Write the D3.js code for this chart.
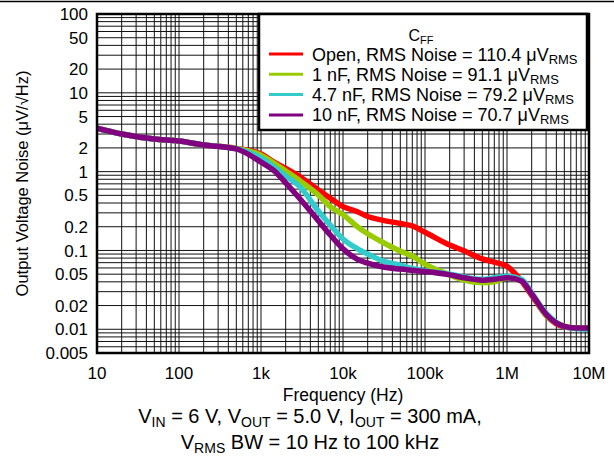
<!DOCTYPE html>
<html>
<head>
<meta charset="utf-8">
<script src="https://cdn.jsdelivr.net/npm/d3@7"></script>
<style>
  body { margin: 0; background: #fff; }
  text { font-family: "Liberation Sans", Arial, Helvetica, sans-serif; fill: #000; }
</style>
</head>
<body>
<div id="chart"></div>
<script>
// values (Hz, uV/rtHz)
var freqs = [10, 20, 50, 100, 200, 500, 1e3, 1.5e3, 2e3, 3e3, 5e3, 7e3, 1e4, 1.5e4, 2e4, 3e4, 5e4, 7e4,
             1e5, 2e5, 3e5, 5e5, 7e5, 1e6, 1.5e6, 2e6, 3e6, 5e6, 7e6, 1e7];
var noiseOpen = [3.57, 3.0, 2.59, 2.44, 2.18, 1.97, 1.67, 1.29, 1.10, 0.86, 0.585, 0.46, 0.36, 0.31, 0.27, 0.243, 0.22, 0.205,
                 0.17, 0.117, 0.099, 0.078, 0.071, 0.063, 0.041, 0.027, 0.015, 0.0107, 0.0104, 0.0102];
var noise1n = [3.57, 3.0, 2.59, 2.44, 2.18, 1.97, 1.62, 1.25, 1.02, 0.76, 0.505, 0.36, 0.285, 0.2, 0.163, 0.128, 0.098, 0.085,
               0.067, 0.049, 0.042, 0.039, 0.040, 0.045, 0.041, 0.028, 0.015, 0.011, 0.0104, 0.0104];
var noise4n7 = [3.57, 3.0, 2.59, 2.44, 2.18, 1.95, 1.49, 1.11, 0.88, 0.64, 0.316, 0.21, 0.14, 0.105, 0.09, 0.074, 0.065, 0.059,
                0.055, 0.05, 0.046, 0.043, 0.045, 0.047, 0.043, 0.029, 0.016, 0.0108, 0.0102, 0.0100];
var noise10n = [3.57, 3.0, 2.59, 2.44, 2.18, 1.94, 1.32, 0.99, 0.72, 0.45, 0.238, 0.157, 0.105, 0.077, 0.069, 0.062, 0.058, 0.056,
                0.054, 0.049, 0.045, 0.042, 0.043, 0.045, 0.041, 0.028, 0.0155, 0.0109, 0.0104, 0.0104];

var seriesNames = ["Open", "1 nF", "4.7 nF", "10 nF"];
var seriesNoise = ["110.4", "91.1", "79.2", "70.7"];
var seriesColors = ["#ff0000", "#99cc00", "#33cccc", "#800080"];
var seriesValues = [noiseOpen, noise1n, noise4n7, noise10n];

var xTicks = [10, 100, 1e3, 1e4, 1e5, 1e6, 1e7];
var xTickLabels = ["10", "100", "1k", "10k", "100k", "1M", "10M"];
var yTicks = [100, 50, 20, 10, 5, 2, 1, 0.5, 0.2, 0.1, 0.05, 0.02, 0.01, 0.005];
var yTickLabels = ["100", "50", "20", "10", "5", "2", "1", "0.5", "0.2", "0.1", "0.05", "0.02", "0.01", "0.005"];

var width = 614;
var height = 460;
var margin = { top: 14, left: 97, right: 25, bottom: 107 };
var plotWidth = width - margin.left - margin.right;
var plotHeight = height - margin.top - margin.bottom;

var svg = d3.select("#chart")
  .append("svg")
    .attr("width", width)
    .attr("height", height);

// rule across the top
svg.append("line")
  .attr("x1", 0).attr("x2", width)
  .attr("y1", 1.5).attr("y2", 1.5)
  .attr("stroke", "#000")
  .attr("stroke-width", 1.5);

var g = svg.append("g")
  .attr("transform", "translate(" + margin.left + "," + margin.top + ")");

var x = d3.scaleLog().domain([10, 1e7]).range([0, plotWidth]);
var y = d3.scaleLog().domain([0.005, 100]).range([plotHeight, 0]);

// grid, 1..9 each decade
var xGrid = [];
for (var e = 1; e < 7; e++) {
  for (var m = 1; m < 10; m++) xGrid.push(m * Math.pow(10, e));
}
var yGrid = [];
for (var e2 = -3; e2 < 2; e2++) {
  for (var m2 = 1; m2 < 10; m2++) {
    var v = m2 * Math.pow(10, e2);
    if (v >= 0.005 && v <= 100) yGrid.push(v);
  }
}

g.append("g")
  .selectAll("line")
  .data(xGrid)
  .enter()
  .append("line")
  .attr("x1", function(d) { return x(d); })
  .attr("x2", function(d) { return x(d); })
  .attr("y1", 0)
  .attr("y2", plotHeight)
  .attr("stroke", "#111")
  .attr("stroke-width", 1);

g.append("g")
  .selectAll("line")
  .data(yGrid)
  .enter()
  .append("line")
  .attr("x1", 0)
  .attr("x2", plotWidth)
  .attr("y1", function(d) { return y(d); })
  .attr("y2", function(d) { return y(d); })
  .attr("stroke", "#111")
  .attr("stroke-width", 1);

// curves
g.append("clipPath")
  .attr("id", "plot-clip")
  .append("rect")
  .attr("width", plotWidth)
  .attr("height", plotHeight);

var line = d3.line()
  .x(function(d) { return x(d[0]); })
  .y(function(d) { return y(d[1]); })
  .curve(d3.curveMonotoneX);

seriesValues.forEach(function(vals, i) {
  var pts = freqs.map(function(f, j) { return [f, vals[j]]; });
  g.append("path")
    .datum(pts)
    .attr("clip-path", "url(#plot-clip)")
    .attr("fill", "none")
    .attr("stroke", seriesColors[i])
    .attr("stroke-width", 5.5)
    .attr("stroke-linejoin", "round")
    .attr("d", line);
});

// plot frame
g.append("rect")
  .attr("width", plotWidth)
  .attr("height", plotHeight)
  .attr("fill", "none")
  .attr("stroke", "#000")
  .attr("stroke-width", 2.5);

// tick labels
g.append("g")
  .selectAll("text")
  .data(yTicks)
  .enter()
  .append("text")
  .attr("x", -9)
  .attr("y", function(d) { return y(d); })
  .attr("dy", "0.36em")
  .attr("text-anchor", "end")
  .style("font-size", "17px")
  .text(function(d, i) { return yTickLabels[i]; });

g.append("g")
  .selectAll("text")
  .data(xTicks)
  .enter()
  .append("text")
  .attr("x", function(d) { return x(d); })
  .attr("y", plotHeight + 26)
  .attr("text-anchor", "middle")
  .style("font-size", "17px")
  .text(function(d, i) { return xTickLabels[i]; });

// axis titles
g.append("text")
  .attr("x", plotWidth / 2)
  .attr("y", plotHeight + 48)
  .attr("text-anchor", "middle")
  .style("font-size", "17.5px")
  .text("Frequency (Hz)");

svg.append("text")
  .attr("transform", "translate(28," + (margin.top + plotHeight / 2) + ") rotate(-90)")
  .attr("text-anchor", "middle")
  .style("font-size", "16.5px")
  .text("Output Voltage Noise (\u03bcV/\u221aHz)");

// legend
var legend = svg.append("g");
legend.append("rect")
  .attr("x", 259)
  .attr("y", 14)
  .attr("width", 328)
  .attr("height", 116)
  .attr("fill", "#fff")
  .attr("stroke", "#000")
  .attr("stroke-width", 2.5);

var cff = legend.append("text")
  .attr("x", 421)
  .attr("y", 41)
  .attr("text-anchor", "middle")
  .style("font-size", "16px");
cff.append("tspan").text("C");
cff.append("tspan").attr("dy", 3).style("font-size", "11px").text("FF");

seriesNames.forEach(function(name, i) {
  var ly = 54 + i * 20.3;
  legend.append("line")
    .attr("x1", 269).attr("x2", 303)
    .attr("y1", ly).attr("y2", ly)
    .attr("stroke", seriesColors[i])
    .attr("stroke-width", 3);
  var t = legend.append("text")
    .attr("x", 312)
    .attr("y", ly + 6.5)
    .style("font-size", "18px");
  t.append("tspan").text(name + ", RMS Noise = " + seriesNoise[i] + " \u03bcV");
  t.append("tspan").attr("dy", 3).style("font-size", "13px").text("RMS");
});

// conditions caption
var cap1 = svg.append("text")
  .attr("x", 310)
  .attr("y", 423)
  .attr("text-anchor", "middle")
  .style("font-size", "20px");
cap1.append("tspan").text("V");
cap1.append("tspan").attr("dy", 4).style("font-size", "14px").text("IN");
cap1.append("tspan").attr("dy", -4).text(" = 6 V, V");
cap1.append("tspan").attr("dy", 4).style("font-size", "14px").text("OUT");
cap1.append("tspan").attr("dy", -4).text(" = 5.0 V, I");
cap1.append("tspan").attr("dy", 4).style("font-size", "14px").text("OUT");
cap1.append("tspan").attr("dy", -4).text(" = 300 mA,");

var cap2 = svg.append("text")
  .attr("x", 310)
  .attr("y", 449)
  .attr("text-anchor", "middle")
  .style("font-size", "20px");
cap2.append("tspan").text("V");
cap2.append("tspan").attr("dy", 4).style("font-size", "14px").text("RMS");
cap2.append("tspan").attr("dy", -4).text(" BW = 10 Hz to 100 kHz");
</script>
</body>
</html>
